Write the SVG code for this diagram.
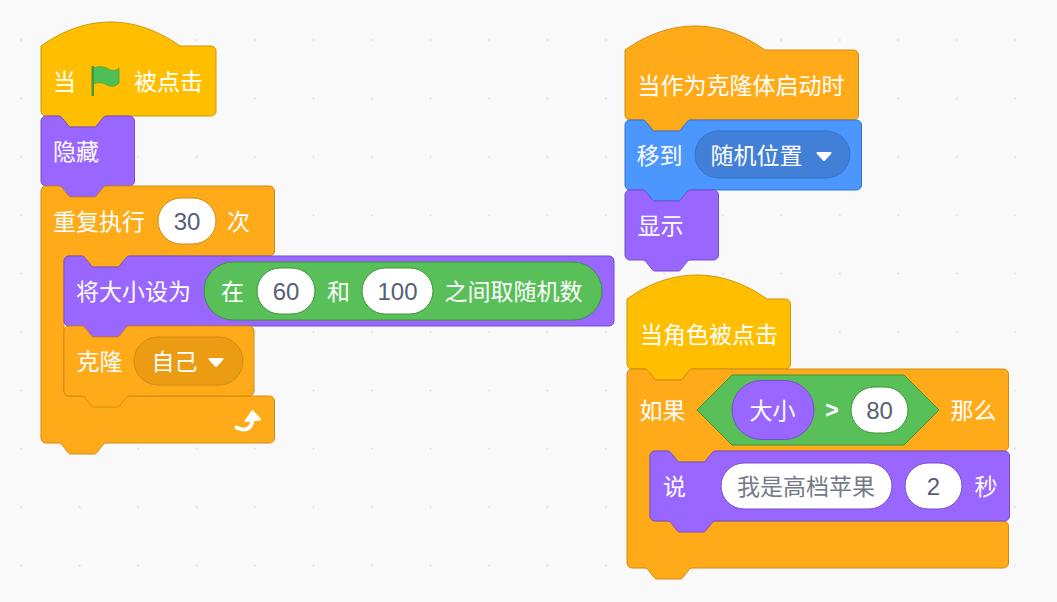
<svg xmlns="http://www.w3.org/2000/svg" width="1057" height="602" viewBox="0 0 1057 602">
<style>
text{font-family:"Noto Sans CJK SC","Noto Sans",sans-serif;font-size:23px;fill:#fff}
text.n{font-family:"Liberation Sans",Arial,sans-serif;font-size:24px;fill:#575e75;text-anchor:middle}
text.g{fill:#757986}
text.b{font-family:"Liberation Sans",Arial,sans-serif;font-weight:bold;text-anchor:middle}
.hat{fill:#ffbf00;stroke:#cc9900}
.ctl{fill:#ffab19;stroke:#cf8b17}
.pur{fill:#9966ff;stroke:#774dcb}
.blu{fill:#4c97ff;stroke:#3373cc}
.grn{fill:#59c059;stroke:#389438}
.ddo{fill:#ec9c13;stroke:#cf8b17}
.ddb{fill:#4280d7;stroke:#3373cc}
.in{fill:#fff}
.tri{fill:#fff;stroke:#fff;stroke-width:2;stroke-linejoin:round}
</style>
<defs>
<pattern id="dots" patternUnits="userSpaceOnUse" x="-8" y="10.8" width="58.47" height="58.4">
<circle cx="29.2" cy="29.2" r="1.1" fill="#dcdcdc"/>
</pattern>
</defs>
<rect width="1057" height="602" fill="#f9f9f9"/>
<rect width="1057" height="602" fill="url(#dots)"/>

<g id="stack-flag">
<g id="hat-flag">
<path class="hat" d="M41 46c45 -32 94 -32 139 0H211a5 5 0 0 1 5 5V111a5 5 0 0 1 -5 5H107c-2.500 0 -3.500 1 -4.500 2.500l-4.500 5.500c-1 1.500 -2 3 -3.500 3h-24c-1.500 0 -2.500 -1.500 -3.500 -3l-4.500 -5.500c-1 -1.500 -2 -2.500 -4.500 -2.500H46a5 5 0 0 1 -5 -5Z"/>
<text x="53" y="90">当</text>
<path d="M93 68c8 -2.500 13 -1 17 2c3 1 6 1 9 -2v15c-4 4 -8 4 -12 2c-5 -3 -9 -3 -14 -1Z" fill="#4cbf56" stroke="#45993d" stroke-width=".7"/>
<rect x="91.500" y="66" width="2.500" height="30" fill="#45993d"/>
<text x="134" y="90">被点击</text>
</g>
<g id="block-hide">
<path class="pur" d="M41 121a5 5 0 0 1 5 -5H58c2.500 0 3.500 1 4.500 2.500l4.500 5.500c1 1.500 2 3 3.500 3h24c1.500 0 2.500 -1.500 3.500 -3l4.500 -5.500c1 -1.500 2 -2.500 4.500 -2.500H129.500a5 5 0 0 1 5 5V181a5 5 0 0 1 -5 5H107c-2.500 0 -3.500 1 -4.500 2.500l-4.500 5.500c-1 1.500 -2 3 -3.500 3h-24c-1.500 0 -2.500 -1.500 -3.500 -3l-4.500 -5.500c-1 -1.500 -2 -2.500 -4.500 -2.500H46a5 5 0 0 1 -5 -5Z"/>
<text x="53" y="160">隐藏</text>
</g>
<g id="block-repeat">
<path class="ctl" d="M41 191a5 5 0 0 1 5 -5H58c2.500 0 3.500 1 4.500 2.500l4.500 5.500c1 1.500 2 3 3.500 3h24c1.500 0 2.500 -1.500 3.500 -3l4.500 -5.500c1 -1.500 2 -2.500 4.500 -2.500H269.500a5 5 0 0 1 5 5V251a5 5 0 0 1 -5 5H130c-2.500 0 -3.500 1 -4.500 2.500l-4.500 5.500c-1 1.500 -2 3 -3.500 3h-24c-1.500 0 -2.500 -1.500 -3.500 -3l-4.500 -5.500c-1 -1.500 -2 -2.500 -4.500 -2.500H69a5 5 0 0 0 -5 5V391a5 5 0 0 0 5 5H269.500a5 5 0 0 1 5 5V438a5 5 0 0 1 -5 5H107c-2.500 0 -3.500 1 -4.500 2.500l-4.500 5.500c-1 1.500 -2 3 -3.500 3h-24c-1.500 0 -2.500 -1.500 -3.500 -3l-4.500 -5.500c-1 -1.500 -2 -2.500 -4.500 -2.500H46a5 5 0 0 1 -5 -5Z"/>
<text x="53" y="230">重复执行</text>
<rect class="in" x="158" y="198" width="58" height="46" rx="23" stroke="#cf8b17"/>
<text class="n" x="187" y="230">30</text>
<text x="227" y="230">次</text>
<path d="M236.500 427.500C245 432 252 429 252.500 419" fill="none" stroke="#fff" stroke-width="4" stroke-linecap="round"/>
<path class="tri" d="M245.500 421L252.500 411L260 419.500Z"/>
</g>
<g id="block-setsize">
<path class="pur" d="M64 261a5 5 0 0 1 5 -5H81c2.500 0 3.500 1 4.500 2.500l4.500 5.500c1 1.500 2 3 3.500 3h24c1.500 0 2.500 -1.500 3.500 -3l4.500 -5.500c1 -1.500 2 -2.500 4.500 -2.500H609a5 5 0 0 1 5 5V321a5 5 0 0 1 -5 5H130c-2.500 0 -3.500 1 -4.500 2.500l-4.500 5.500c-1 1.500 -2 3 -3.500 3h-24c-1.500 0 -2.500 -1.500 -3.500 -3l-4.500 -5.500c-1 -1.500 -2 -2.500 -4.500 -2.500H69a5 5 0 0 1 -5 -5Z"/>
<text x="76" y="300">将大小设为</text>
<rect class="grn" x="204" y="262" width="398" height="58" rx="29"/>
<text x="221" y="300">在</text>
<rect class="in" x="257" y="268" width="58" height="46" rx="23" stroke="#389438"/>
<text class="n" x="286" y="300">60</text>
<text x="327" y="300">和</text>
<rect class="in" x="362" y="268" width="71" height="46" rx="23" stroke="#389438"/>
<text class="n" x="397.500" y="300">100</text>
<text x="444.500" y="300">之间取随机数</text>
</g>
<g id="block-clone">
<path class="ctl" d="M64 331a5 5 0 0 1 5 -5H81c2.500 0 3.500 1 4.500 2.500l4.500 5.500c1 1.500 2 3 3.500 3h24c1.500 0 2.500 -1.500 3.500 -3l4.500 -5.500c1 -1.500 2 -2.500 4.500 -2.500H249a5 5 0 0 1 5 5V391a5 5 0 0 1 -5 5H130c-2.500 0 -3.500 1 -4.500 2.500l-4.500 5.500c-1 1.500 -2 3 -3.500 3h-24c-1.500 0 -2.500 -1.500 -3.500 -3l-4.500 -5.500c-1 -1.500 -2 -2.500 -4.500 -2.500H69a5 5 0 0 1 -5 -5Z"/>
<text x="76.500" y="370">克隆</text>
<rect class="ddo" x="134" y="337" width="109" height="48" rx="24"/>
<text x="151.500" y="370">自己</text>
<path class="tri" d="M209.500 359H222.500L216 366Z"/>
</g>
</g>

<g id="stack-clone-start">
<g id="hat-clone-start">
<path class="ctl" d="M625 50c45 -32 95 -32 140 0H853.500a5 5 0 0 1 5 5V115a5 5 0 0 1 -5 5H691c-2.500 0 -3.500 1 -4.500 2.500l-4.500 5.500c-1 1.500 -2 3 -3.500 3h-24c-1.500 0 -2.500 -1.500 -3.500 -3l-4.500 -5.500c-1 -1.500 -2 -2.500 -4.500 -2.500H630a5 5 0 0 1 -5 -5Z"/>
<text x="637.500" y="94">当作为克隆体启动时</text>
</g>
<g id="block-goto">
<path class="blu" d="M625 125a5 5 0 0 1 5 -5H642c2.500 0 3.500 1 4.500 2.500l4.500 5.500c1 1.500 2 3 3.500 3h24c1.500 0 2.500 -1.500 3.500 -3l4.500 -5.500c1 -1.500 2 -2.500 4.500 -2.500H856.500a5 5 0 0 1 5 5V185a5 5 0 0 1 -5 5H691c-2.500 0 -3.500 1 -4.500 2.500l-4.500 5.500c-1 1.500 -2 3 -3.500 3h-24c-1.500 0 -2.500 -1.500 -3.500 -3l-4.500 -5.500c-1 -1.500 -2 -2.500 -4.500 -2.500H630a5 5 0 0 1 -5 -5Z"/>
<text x="636.500" y="164">移到</text>
<rect class="ddb" x="695" y="131" width="155" height="47" rx="23.500"/>
<text x="710.500" y="164">随机位置</text>
<path class="tri" d="M817.500 153H830.500L824 160Z"/>
</g>
<g id="block-show">
<path class="pur" d="M625 195a5 5 0 0 1 5 -5H642c2.500 0 3.500 1 4.500 2.500l4.500 5.500c1 1.500 2 3 3.500 3h24c1.500 0 2.500 -1.500 3.500 -3l4.500 -5.500c1 -1.500 2 -2.500 4.500 -2.500H713.500a5 5 0 0 1 5 5V255a5 5 0 0 1 -5 5H691c-2.500 0 -3.500 1 -4.500 2.500l-4.500 5.500c-1 1.500 -2 3 -3.500 3h-24c-1.500 0 -2.500 -1.500 -3.500 -3l-4.500 -5.500c-1 -1.500 -2 -2.500 -4.500 -2.500H630a5 5 0 0 1 -5 -5Z"/>
<text x="637.500" y="234">显示</text>
</g>
</g>

<g id="stack-sprite-click">
<g id="hat-sprite-click">
<path class="hat" d="M627 299c45 -32 95 -32 140 0H785.500a5 5 0 0 1 5 5V364a5 5 0 0 1 -5 5H693c-2.500 0 -3.500 1 -4.500 2.500l-4.500 5.500c-1 1.500 -2 3 -3.500 3h-24c-1.500 0 -2.500 -1.500 -3.500 -3l-4.500 -5.500c-1 -1.500 -2 -2.500 -4.500 -2.500H632a5 5 0 0 1 -5 -5Z"/>
<text x="640" y="343">当角色被点击</text>
</g>
<g id="block-if">
<path class="ctl" d="M627 374a5 5 0 0 1 5 -5H644c2.500 0 3.500 1 4.500 2.500l4.500 5.500c1 1.500 2 3 3.500 3h24c1.500 0 2.500 -1.500 3.500 -3l4.500 -5.500c1 -1.500 2 -2.500 4.500 -2.500H1003.500a5 5 0 0 1 5 5V446a5 5 0 0 1 -5 5H716c-2.500 0 -3.500 1 -4.500 2.500l-4.500 5.500c-1 1.500 -2 3 -3.500 3h-24c-1.500 0 -2.500 -1.500 -3.500 -3l-4.500 -5.500c-1 -1.500 -2 -2.500 -4.500 -2.500H655a5 5 0 0 0 -5 5V516a5 5 0 0 0 5 5H1003.500a5 5 0 0 1 5 5V563a5 5 0 0 1 -5 5H693c-2.500 0 -3.500 1 -4.500 2.500l-4.500 5.500c-1 1.500 -2 3 -3.500 3h-24c-1.500 0 -2.500 -1.500 -3.500 -3l-4.500 -5.500c-1 -1.500 -2 -2.500 -4.500 -2.500H632a5 5 0 0 1 -5 -5Z"/>
<text x="639.500" y="419">如果</text>
<path class="grn" d="M732 375H904L939 410L904 445H732L697 410Z" stroke-linejoin="round"/>
<rect class="pur" x="732" y="380.500" width="82" height="59" rx="29.500"/>
<text x="749.500" y="419">大小</text>
<text class="b" x="832" y="418">&gt;</text>
<rect class="in" x="851" y="387" width="57" height="46" rx="23" stroke="#389438"/>
<text class="n" x="879.500" y="419">80</text>
<text x="950.500" y="419">那么</text>
</g>
<g id="block-say">
<path class="pur" d="M650 456a5 5 0 0 1 5 -5H667c2.500 0 3.500 1 4.500 2.500l4.500 5.500c1 1.500 2 3 3.500 3h24c1.500 0 2.500 -1.500 3.500 -3l4.500 -5.500c1 -1.500 2 -2.500 4.500 -2.500H1004.500a5 5 0 0 1 5 5V516a5 5 0 0 1 -5 5H716c-2.500 0 -3.500 1 -4.500 2.500l-4.500 5.500c-1 1.500 -2 3 -3.500 3h-24c-1.500 0 -2.500 -1.500 -3.500 -3l-4.500 -5.500c-1 -1.500 -2 -2.500 -4.500 -2.500H655a5 5 0 0 1 -5 -5Z"/>
<text x="663" y="495">说</text>
<rect class="in" x="721" y="463" width="171" height="46" rx="23" stroke="#774dcb"/>
<text class="g" x="737" y="495">我是高档苹果</text>
<rect class="in" x="905" y="463" width="57" height="46" rx="23" stroke="#774dcb"/>
<text class="n" x="933.500" y="495">2</text>
<text x="974.500" y="495">秒</text>
</g>
</g>
</svg>
